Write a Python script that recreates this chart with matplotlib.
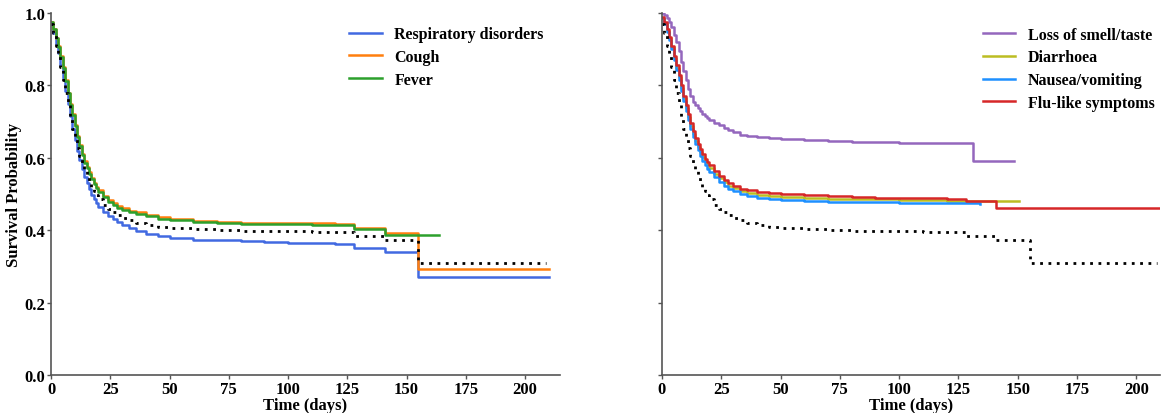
import matplotlib
matplotlib.use("Agg")
import matplotlib.pyplot as plt
import numpy as np

plt.rcParams['font.family'] = ['Liberation Serif', 'DejaVu Serif']
plt.rcParams['font.weight'] = 'bold'

# ---------------- data ----------------
t_grid = [0, 1, 2, 3, 4, 5, 6, 7, 8, 9, 10, 11, 12, 13, 14, 15, 16, 17, 18, 19, 20,
          22, 24, 26, 28, 30, 33, 36, 40, 45, 50, 60, 70, 80, 90, 100, 110, 120]

# Overall (dotted reference)
overall_s = [0.97, 0.945, 0.91, 0.88, 0.85, 0.815, 0.78, 0.745, 0.71, 0.68, 0.652, 0.627,
             0.605, 0.585, 0.566, 0.55, 0.535, 0.52, 0.507, 0.496, 0.486,
             0.47, 0.458, 0.449, 0.441, 0.435, 0.427, 0.42, 0.414, 0.409, 0.406,
             0.402, 0.40, 0.399, 0.398, 0.397, 0.396, 0.394]
overall_tail_t = [128, 141, 155, 208.7]
overall_tail_s = [0.383, 0.373, 0.31, 0.31]

# Left panel
resp_s = [0.97, 0.945, 0.915, 0.89, 0.855, 0.82, 0.785, 0.75, 0.715, 0.68, 0.65, 0.62,
          0.595, 0.57, 0.548, 0.53, 0.513, 0.498, 0.485, 0.474, 0.465,
          0.45, 0.44, 0.43, 0.422, 0.415, 0.405, 0.398, 0.39, 0.383, 0.378,
          0.374, 0.372, 0.37, 0.368, 0.366, 0.365, 0.363]
resp_tail_t = [128, 141, 155, 210]
resp_tail_s = [0.351, 0.339, 0.271, 0.271]

cough_s = [0.975, 0.955, 0.93, 0.91, 0.88, 0.85, 0.815, 0.78, 0.75, 0.72, 0.69, 0.66,
           0.635, 0.61, 0.59, 0.575, 0.56, 0.545, 0.53, 0.52, 0.51,
           0.495, 0.483, 0.475, 0.467, 0.46, 0.453, 0.449, 0.443, 0.436, 0.43,
           0.426, 0.423, 0.421, 0.421, 0.42, 0.419, 0.418]
cough_tail_t = [128, 141, 155, 210]
cough_tail_s = [0.407, 0.393, 0.294, 0.294]

fever_s = [0.975, 0.955, 0.93, 0.905, 0.878, 0.848, 0.813, 0.778, 0.747, 0.717, 0.687, 0.657,
           0.632, 0.607, 0.587, 0.571, 0.556, 0.541, 0.527, 0.516, 0.506,
           0.491, 0.479, 0.47, 0.462, 0.456, 0.449, 0.444, 0.438, 0.432, 0.427,
           0.422, 0.42, 0.418, 0.417, 0.416, 0.415, 0.414]
fever_tail_t = [128, 141, 163.6]
fever_tail_s = [0.402, 0.386, 0.386]

# Right panel
smell_s = [1.0, 0.995, 0.985, 0.975, 0.96, 0.94, 0.92, 0.895, 0.865, 0.84, 0.815, 0.79,
           0.77, 0.755, 0.745, 0.737, 0.728, 0.72, 0.715, 0.709, 0.704,
           0.696, 0.69, 0.683, 0.676, 0.67, 0.664, 0.661, 0.658, 0.655, 0.653,
           0.649, 0.646, 0.645, 0.643, 0.642, 0.641, 0.641]
smell_tail_t = [131, 148.4]
smell_tail_s = [0.591, 0.591]

diarr_s = [0.985, 0.972, 0.95, 0.93, 0.905, 0.875, 0.848, 0.822, 0.793, 0.765, 0.738, 0.712,
           0.688, 0.667, 0.647, 0.63, 0.615, 0.602, 0.59, 0.58, 0.571,
           0.556, 0.543, 0.532, 0.523, 0.516, 0.508, 0.502, 0.497, 0.494, 0.492,
           0.489, 0.487, 0.486, 0.485, 0.484, 0.483, 0.482]
diarr_tail_t = [150.5]
diarr_tail_s = [0.4815]

nausea_s = [0.985, 0.97, 0.947, 0.925, 0.9, 0.87, 0.842, 0.815, 0.785, 0.757, 0.73, 0.704,
            0.68, 0.658, 0.638, 0.621, 0.606, 0.592, 0.58, 0.57, 0.561,
            0.546, 0.533, 0.522, 0.514, 0.507, 0.499, 0.494, 0.489, 0.486, 0.484,
            0.481, 0.479, 0.478, 0.477, 0.476, 0.475, 0.474]
nausea_tail_t = [134.3]
nausea_tail_s = [0.473]

flu_s = [0.988, 0.975, 0.955, 0.935, 0.91, 0.88, 0.855, 0.83, 0.8, 0.772, 0.745, 0.72,
         0.695, 0.675, 0.655, 0.638, 0.623, 0.61, 0.598, 0.588, 0.579,
         0.564, 0.551, 0.54, 0.53, 0.523, 0.515, 0.51, 0.505, 0.502, 0.5,
         0.496, 0.494, 0.492, 0.49, 0.489, 0.488, 0.486]
flu_tail_t = [123, 128, 141, 210]
flu_tail_s = [0.485, 0.4815, 0.461, 0.461]

left_labels = ['Respiratory disorders', 'Cough', 'Fever']
right_labels = ['Loss of smell/taste', 'Diarrhoea', 'Nausea/vomiting', 'Flu-like symptoms']
x_ticks = [0, 25, 50, 75, 100, 125, 150, 175, 200]
y_ticks = [0.0, 0.2, 0.4, 0.6, 0.8, 1.0]

# ---------------- plot ----------------
fig = plt.figure(figsize=(11.69, 4.14), dpi=100)
ax1 = fig.add_axes([51 / 1169, 38 / 414, 509 / 1169, 362 / 414])
ax2 = fig.add_axes([662 / 1169, 38 / 414, 498 / 1169, 362 / 414])


def curve(ax, s, tt, ts, **kw):
    t = list(t_grid) + list(tt)
    v = list(s) + list(ts)
    ax.plot(t, v, drawstyle='steps-post', **kw)


lw = 1.8
curve(ax1, resp_s, resp_tail_t, resp_tail_s, color='#4169E1', lw=lw, label=left_labels[0])
curve(ax1, cough_s, cough_tail_t, cough_tail_s, color='#FF7F0E', lw=lw, label=left_labels[1])
curve(ax1, fever_s, fever_tail_t, fever_tail_s, color='#2CA02C', lw=lw, label=left_labels[2])
curve(ax1, overall_s, overall_tail_t, overall_tail_s, color='black', lw=2, ls=(0, (1, 2)))

curve(ax2, smell_s, smell_tail_t, smell_tail_s, color='#9467BD', lw=lw, label=right_labels[0])
curve(ax2, diarr_s, diarr_tail_t, diarr_tail_s, color='#BCBD22', lw=lw, label=right_labels[1])
curve(ax2, nausea_s, nausea_tail_t, nausea_tail_s, color='#1E90FF', lw=lw, label=right_labels[2])
curve(ax2, flu_s, flu_tail_t, flu_tail_s, color='#D62728', lw=lw, label=right_labels[3])
curve(ax2, overall_s, overall_tail_t, overall_tail_s, color='black', lw=2, ls=(0, (1, 2)))

ax1.set_xlim(0, 214.7)
ax2.set_xlim(0, 210)
for ax in (ax1, ax2):
    ax.set_ylim(0, 1.0)
    ax.set_xticks(x_ticks)
    ax.set_yticks(y_ticks)
    ax.spines['top'].set_visible(False)
    ax.spines['right'].set_visible(False)
    for sp in ('left', 'bottom'):
        ax.spines[sp].set_color('#555555')
        ax.spines[sp].set_linewidth(1.2)
    ax.tick_params(axis='both', labelsize=12, length=3, width=1, color='#555555', pad=1)
    for lab in ax.get_xticklabels() + ax.get_yticklabels():
        lab.set_fontweight('bold')
    ax.set_xlabel('Time (days)', fontsize=12, fontweight='bold', labelpad=0)

leg_kw = dict(loc='upper right', frameon=False, prop={'weight': 'bold', 'size': 11.5},
              handlelength=2.05, handletextpad=0.8, borderaxespad=0.3, labelspacing=0.42)
ax1.legend(bbox_to_anchor=(1 - 5 / 509, 1 - 2 / 362), **leg_kw)
ax2.legend(bbox_to_anchor=(1 + 6 / 498, 1 - 2.5 / 362), **leg_kw)

ax1.set_yticklabels([f'{v:.1f}' for v in y_ticks], fontweight='bold')
ax2.set_yticklabels([])
ax1.set_ylabel('Survival Probability', fontsize=12, fontweight='bold', labelpad=2)

fig.savefig('out.png', dpi=100)
